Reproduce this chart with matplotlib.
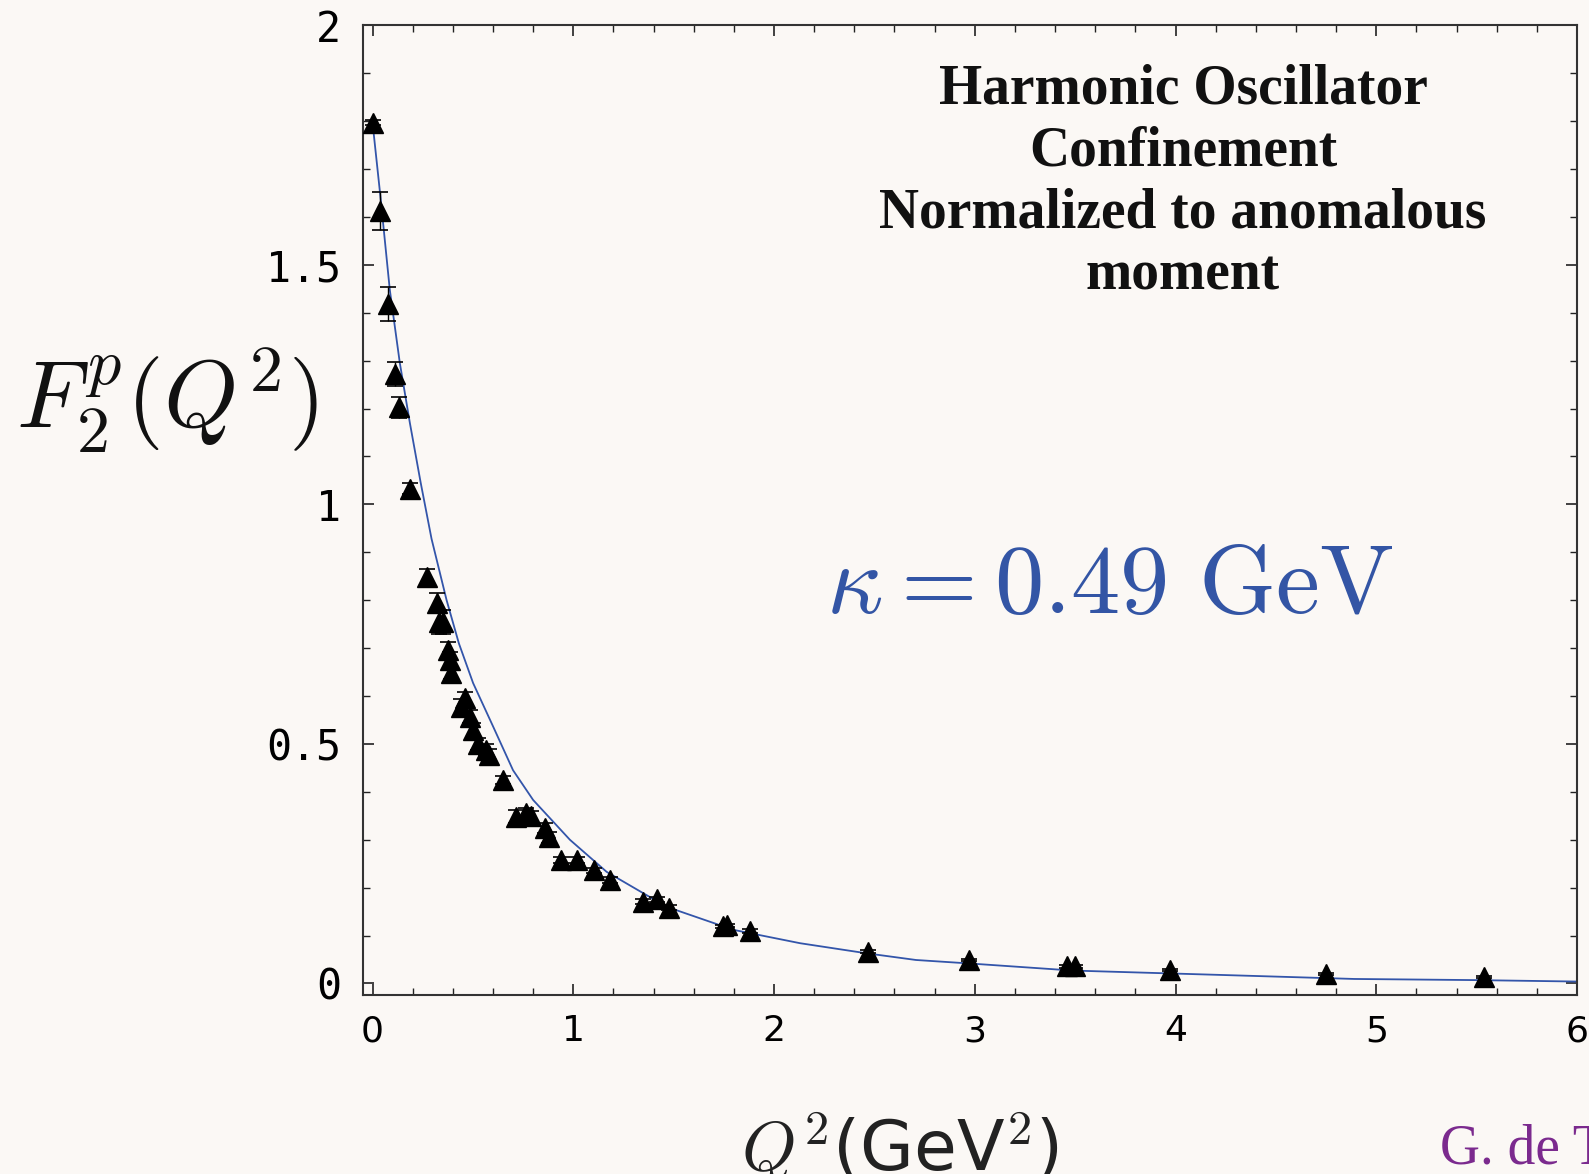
import matplotlib
matplotlib.use("Agg")
import matplotlib.pyplot as plt
from matplotlib.ticker import MultipleLocator

plt.rcParams['mathtext.fontset'] = 'cm'

# Data points (Q^2 in GeV^2, F2^p)
q2_data = [0.000, 0.036, 0.076, 0.111, 0.131, 0.187, 0.269, 0.322, 0.332, 0.349,
           0.377, 0.388, 0.390, 0.460, 0.443, 0.485, 0.498, 0.526, 0.564, 0.581,
           0.651, 0.717, 0.766, 0.789, 0.858, 0.881, 0.937, 1.020, 1.103, 1.182,
           1.345, 1.415, 1.478, 1.747, 1.767, 1.880, 2.468, 2.970, 3.460, 3.500,
           3.970, 4.750, 5.535]
f2_data = [1.797, 1.612, 1.418, 1.272, 1.203, 1.033, 0.849, 0.795, 0.755, 0.755,
           0.695, 0.675, 0.648, 0.595, 0.578, 0.557, 0.529, 0.500, 0.487, 0.477,
           0.425, 0.348, 0.355, 0.349, 0.325, 0.305, 0.258, 0.258, 0.236, 0.216,
           0.171, 0.176, 0.158, 0.119, 0.121, 0.110, 0.066, 0.049, 0.036, 0.036,
           0.028, 0.020, 0.014]
f2_err = [0.005, 0.040, 0.035, 0.026, 0.022, 0.012, 0.016, 0.020, 0.025, 0.025,
          0.018, 0.016, 0.012, 0.014, 0.016, 0.014, 0.014, 0.012, 0.012, 0.012,
          0.008, 0.014, 0.012, 0.012, 0.010, 0.012, 0.006, 0.006, 0.006, 0.006,
          0.005, 0.005, 0.005, 0.004, 0.004, 0.004, 0.003, 0.003, 0.003, 0.003,
          0.002, 0.002, 0.002]

# Model curve
q2_curve = [0.000, 0.041, 0.086, 0.136, 0.186, 0.240, 0.294, 0.369, 0.430, 0.501,
            0.601, 0.700, 0.800, 0.983, 1.166, 1.465, 1.797, 2.130, 2.460, 2.707,
            3.000, 3.485, 4.210, 4.890, 5.500, 6.000]
f2_curve = [1.797, 1.636, 1.448, 1.295, 1.170, 1.045, 0.928, 0.800, 0.710, 0.627,
            0.536, 0.445, 0.383, 0.300, 0.233, 0.160, 0.112, 0.084, 0.063, 0.049,
            0.041, 0.027, 0.018, 0.0094, 0.007, 0.004]

x_ticks = [0, 1, 2, 3, 4, 5, 6]
x_ticklabels = ['0', '1', '2', '3', '4', '5', '6']
y_ticks = [0, 0.5, 1, 1.5, 2]
y_ticklabels = ['0', '0.5', '1', '1.5', '2']

bg = '#fbf8f5'
fig = plt.figure(figsize=(15.89, 11.74), dpi=100, facecolor=bg)
ax = fig.add_axes([0.2285, 0.1525, 0.764, 0.826], facecolor=bg)

ax.plot(q2_curve, f2_curve, color='#3355aa', lw=1.3, zorder=2)
ax.errorbar(q2_data, f2_data, yerr=f2_err, fmt='^', color='black', ms=15,
            ecolor='black', elinewidth=1.0, capsize=6, capthick=1.2, zorder=3)

ax.set_xlim(-0.047, 6)
ax.set_ylim(-0.024, 2)

ax.set_xticks(x_ticks)
ax.set_xticklabels(x_ticklabels, fontfamily='DejaVu Sans')
ax.xaxis.set_minor_locator(MultipleLocator(0.2))
ax.set_yticks(y_ticks)
ax.set_yticklabels(y_ticklabels, fontfamily='DejaVu Sans Mono')
ax.yaxis.set_minor_locator(MultipleLocator(0.1))

ax.tick_params(which='both', direction='in', top=True, right=True, color='#222222')
ax.tick_params(which='major', length=8, width=1.2)
ax.tick_params(which='minor', length=5, width=1.0)
ax.tick_params(axis='x', which='major', pad=14, labelsize=26)
ax.tick_params(axis='y', which='major', pad=16, labelsize=30)

for s in ax.spines.values():
    s.set_linewidth(1.5)
    s.set_color('#333333')

fig.text(0.7445, 0.946, 'Harmonic Oscillator\nConfinement\nNormalized to anomalous\nmoment',
         ha='center', va='top', fontsize=40, fontweight='bold',
         fontfamily='Liberation Serif', linespacing=1.25, color='#111111')

fig.text(0.6986, 0.501, r'$\kappa = 0.49\ \mathrm{GeV}$', ha='center', va='center',
         fontsize=71, color='#3355a5')

fig.text(0.105, 0.659, r'$F_2^p(Q^2)$', ha='center', va='center', fontsize=68,
         color='#111111')

fig.text(0.5665, 0.022, r'$Q^2$(GeV$^2$)', ha='center', va='center', fontsize=50,
         fontfamily='DejaVu Sans', color='#222222')

fig.text(0.906, 0.009, 'G. de Téramond', ha='left', va='baseline', fontsize=40,
         fontfamily='Liberation Serif', color='#7b2a8e')

fig.savefig('out.png', dpi=100, facecolor=bg)
